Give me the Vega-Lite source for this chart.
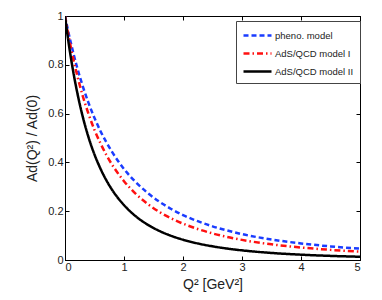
{
  "$schema": "https://vega.github.io/schema/vega-lite/v6.json",
  "width": 295,
  "height": 244,
  "autosize": {"type": "none"},
  "padding": {"left": 65, "top": 16, "right": 22, "bottom": 40},
  "background": "white",
  "config": {
    "view": {"stroke": "black", "strokeWidth": 1},
    "font": "Liberation Sans",
    "axis": {"grid": false, "labelFont": "Liberation Sans", "titleFont": "Liberation Sans", "labelColor": "#222", "titleColor": "#222", "labelFontSize": 11, "titleFontSize": 14, "titleFontWeight": "normal", "domainColor": "black", "tickColor": "black", "tickSize": -4, "tickWidth": 1}
  },
  "data": {"values": [
    {"Q2":0,"model":"pheno. model","ratio":1},
    {"Q2":0.05,"model":"pheno. model","ratio":0.942},
    {"Q2":0.1,"model":"pheno. model","ratio":0.889},
    {"Q2":0.15,"model":"pheno. model","ratio":0.840},
    {"Q2":0.2,"model":"pheno. model","ratio":0.794},
    {"Q2":0.3,"model":"pheno. model","ratio":0.713},
    {"Q2":0.4,"model":"pheno. model","ratio":0.643},
    {"Q2":0.5,"model":"pheno. model","ratio":0.582},
    {"Q2":0.6,"model":"pheno. model","ratio":0.529},
    {"Q2":0.7,"model":"pheno. model","ratio":0.483},
    {"Q2":0.8,"model":"pheno. model","ratio":0.442},
    {"Q2":1.0,"model":"pheno. model","ratio":0.373},
    {"Q2":1.2,"model":"pheno. model","ratio":0.319},
    {"Q2":1.4,"model":"pheno. model","ratio":0.275},
    {"Q2":1.6,"model":"pheno. model","ratio":0.239},
    {"Q2":1.8,"model":"pheno. model","ratio":0.209},
    {"Q2":2.0,"model":"pheno. model","ratio":0.184},
    {"Q2":2.25,"model":"pheno. model","ratio":0.159},
    {"Q2":2.5,"model":"pheno. model","ratio":0.138},
    {"Q2":2.75,"model":"pheno. model","ratio":0.121},
    {"Q2":3.0,"model":"pheno. model","ratio":0.106},
    {"Q2":3.5,"model":"pheno. model","ratio":0.0842},
    {"Q2":4.0,"model":"pheno. model","ratio":0.0679},
    {"Q2":4.5,"model":"pheno. model","ratio":0.0557},
    {"Q2":5.0,"model":"pheno. model","ratio":0.0464},
    {"Q2":0,"model":"AdS/QCD model I","ratio":1},
    {"Q2":0.05,"model":"AdS/QCD model I","ratio":0.932},
    {"Q2":0.1,"model":"AdS/QCD model I","ratio":0.870},
    {"Q2":0.15,"model":"AdS/QCD model I","ratio":0.814},
    {"Q2":0.2,"model":"AdS/QCD model I","ratio":0.763},
    {"Q2":0.3,"model":"AdS/QCD model I","ratio":0.673},
    {"Q2":0.4,"model":"AdS/QCD model I","ratio":0.598},
    {"Q2":0.5,"model":"AdS/QCD model I","ratio":0.533},
    {"Q2":0.6,"model":"AdS/QCD model I","ratio":0.479},
    {"Q2":0.7,"model":"AdS/QCD model I","ratio":0.431},
    {"Q2":0.8,"model":"AdS/QCD model I","ratio":0.390},
    {"Q2":1.0,"model":"AdS/QCD model I","ratio":0.323},
    {"Q2":1.2,"model":"AdS/QCD model I","ratio":0.271},
    {"Q2":1.4,"model":"AdS/QCD model I","ratio":0.230},
    {"Q2":1.6,"model":"AdS/QCD model I","ratio":0.197},
    {"Q2":1.8,"model":"AdS/QCD model I","ratio":0.171},
    {"Q2":2.0,"model":"AdS/QCD model I","ratio":0.149},
    {"Q2":2.25,"model":"AdS/QCD model I","ratio":0.127},
    {"Q2":2.5,"model":"AdS/QCD model I","ratio":0.109},
    {"Q2":2.75,"model":"AdS/QCD model I","ratio":0.0943},
    {"Q2":3.0,"model":"AdS/QCD model I","ratio":0.0824},
    {"Q2":3.5,"model":"AdS/QCD model I","ratio":0.0642},
    {"Q2":4.0,"model":"AdS/QCD model I","ratio":0.0511},
    {"Q2":4.5,"model":"AdS/QCD model I","ratio":0.0415},
    {"Q2":5.0,"model":"AdS/QCD model I","ratio":0.0342},
    {"Q2":0,"model":"AdS/QCD model II","ratio":1},
    {"Q2":0.05,"model":"AdS/QCD model II","ratio":0.909},
    {"Q2":0.1,"model":"AdS/QCD model II","ratio":0.829},
    {"Q2":0.15,"model":"AdS/QCD model II","ratio":0.758},
    {"Q2":0.2,"model":"AdS/QCD model II","ratio":0.695},
    {"Q2":0.3,"model":"AdS/QCD model II","ratio":0.588},
    {"Q2":0.4,"model":"AdS/QCD model II","ratio":0.502},
    {"Q2":0.5,"model":"AdS/QCD model II","ratio":0.432},
    {"Q2":0.6,"model":"AdS/QCD model II","ratio":0.375},
    {"Q2":0.7,"model":"AdS/QCD model II","ratio":0.327},
    {"Q2":0.8,"model":"AdS/QCD model II","ratio":0.287},
    {"Q2":1.0,"model":"AdS/QCD model II","ratio":0.225},
    {"Q2":1.2,"model":"AdS/QCD model II","ratio":0.179},
    {"Q2":1.4,"model":"AdS/QCD model II","ratio":0.145},
    {"Q2":1.6,"model":"AdS/QCD model II","ratio":0.119},
    {"Q2":1.8,"model":"AdS/QCD model II","ratio":0.099},
    {"Q2":2.0,"model":"AdS/QCD model II","ratio":0.0832},
    {"Q2":2.25,"model":"AdS/QCD model II","ratio":0.0679},
    {"Q2":2.5,"model":"AdS/QCD model II","ratio":0.0561},
    {"Q2":2.75,"model":"AdS/QCD model II","ratio":0.0468},
    {"Q2":3.0,"model":"AdS/QCD model II","ratio":0.0395},
    {"Q2":3.5,"model":"AdS/QCD model II","ratio":0.0289},
    {"Q2":4.0,"model":"AdS/QCD model II","ratio":0.0218},
    {"Q2":4.5,"model":"AdS/QCD model II","ratio":0.0168},
    {"Q2":5.0,"model":"AdS/QCD model II","ratio":0.0133}
  ]},
  "layer": [
    {
      "mark": {"type": "line", "strokeWidth": 2.5, "interpolate": "monotone", "clip": true},
      "encoding": {
        "x": {"field": "Q2", "type": "quantitative", "scale": {"domain": [0, 5], "nice": false},
              "axis": {"title": "Q² [GeV²]", "values": [0,1,2,3,4,5], "format": "~g", "labelPadding": 5, "titlePadding": 5}},
        "y": {"field": "ratio", "type": "quantitative", "scale": {"domain": [0, 1], "nice": false},
              "axis": {"title": "Ad(Q²) / Ad(0)", "values": [0,0.2,0.4,0.6,0.8,1], "format": "~g", "labelPadding": 6, "titlePadding": 8}},
        "color": {"field": "model", "type": "nominal",
                  "scale": {"domain": ["pheno. model", "AdS/QCD model I", "AdS/QCD model II"], "range": ["#1a3cff", "#ff1010", "#000000"]},
                  "legend": {"title": null, "orient": "none", "legendX": 171, "legendY": 5, "symbolType": "M-1,0L3,0", "symbolSize": 196, "symbolStrokeWidth": 2.5, "labelFont": "Liberation Sans", "labelFontSize": 9.5, "labelColor": "#222", "labelOffset": 16, "strokeColor": "#444", "fillColor": "white", "padding": 6, "rowPadding": 4}},
        "strokeDash": {"field": "model", "type": "nominal",
                  "scale": {"domain": ["pheno. model", "AdS/QCD model I", "AdS/QCD model II"], "range": [[5, 3], [6, 3, 1.5, 3], [1, 0]]},
                  "legend": null},
        "order": {"field": "Q2", "type": "quantitative"}
      }
    },
    {
      "mark": {"type": "point", "opacity": 0},
      "encoding": {
        "x": {"field": "Q2", "type": "quantitative", "axis": {"orient": "top", "labels": false, "title": null, "values": [0,1,2,3,4,5]}},
        "y": {"field": "ratio", "type": "quantitative", "axis": {"orient": "right", "labels": false, "title": null, "values": [0,0.2,0.4,0.6,0.8,1]}}
      }
    }
  ],
  "resolve": {"axis": {"x": "independent", "y": "independent"}}
}
